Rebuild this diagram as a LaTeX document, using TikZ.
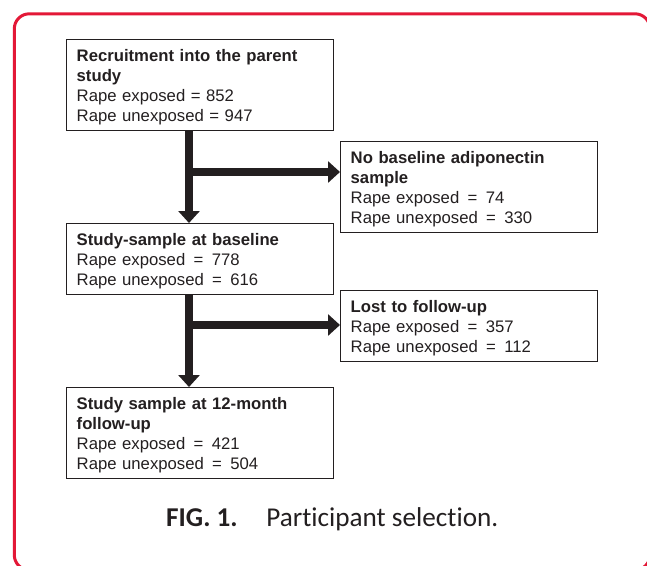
\documentclass[tikz,border=0pt]{standalone}
\usepackage{fontspec}
\setmainfont{Liberation Sans}
\newfontfamily\capfont[Ligatures={NoCommon}]{Carlito}
\usetikzlibrary{arrows.meta}
\definecolor{ink}{HTML}{231F20}
\definecolor{framered}{HTML}{E31837}
\newcommand\tstr{\rule{0pt}{21.5pt}}
\newcommand\bstr{\rule[-9.3pt]{0pt}{0pt}}
\begin{document}
\begin{tikzpicture}[x=1pt,y=-1pt,
  box/.style={draw=ink, line width=1.4pt, anchor=north west, inner xsep=10pt, inner ysep=0pt,
    align=left, text=ink, font=\fontsize{16.7}{20}\selectfont},
  flow/.style={draw=ink, line width=8.7pt, -{Triangle[length=12pt,width=21pt]}},
  frame/.style={draw=framered, line width=3pt, rounded corners=15pt}
]
\useasboundingbox (0,0) rectangle (647,565);
\begin{scope}
  \clip (0,0) rectangle (647,565);
  \draw[frame] (14.3,13.8) rectangle (650,570);
\end{scope}

\node[box, text width=247pt] (b1) at (66,39)
  {\tstr\textbf{Recruitment into the parent}\\\textbf{study}\\Rape exposed = 852\\Rape unexposed = 947\bstr};
\node[box, text width=237pt] (b2) at (340,141)
  {\tstr\textbf{No baseline adiponectin}\\\textbf{sample}\\Rape exposed\enspace=\enspace74\\Rape unexposed\enspace=\enspace330\bstr};
\node[box, text width=247pt] (b3) at (66,223)
  {\tstr\textbf{Study-sample at baseline}\\Rape exposed\enspace=\enspace778\\Rape unexposed\enspace=\enspace616\bstr};
\node[box, text width=237pt] (b4) at (340,290)
  {\tstr\textbf{Lost to follow-up}\\Rape exposed\enspace=\enspace357\\Rape unexposed\enspace=\enspace112\bstr};
\node[box, text width=247pt] (b5) at (66,387)
  {\tstr\textbf{Study sample at 12-month}\\\textbf{follow-up}\\Rape exposed\enspace=\enspace421\\Rape unexposed\enspace=\enspace504\bstr};

\coordinate (j1) at (189,172);
\coordinate (j2) at (189,325);
\draw[flow] (b1.south -| j1) -- (b3.north -| j1);
\draw[flow] (j1) -- (j1 -| b2.west);
\draw[flow] (b3.south -| j2) -- (b5.north -| j2);
\draw[flow] (j2) -- (j2 -| b4.west);

\node[anchor=base west, inner sep=0pt, text=ink, font=\capfont\fontsize{27.2}{32}\selectfont] (cap) at (166,526)
  {\textbf{FIG. 1.}\hspace{1.05em}Participant selection.};
\end{tikzpicture}
\end{document}
